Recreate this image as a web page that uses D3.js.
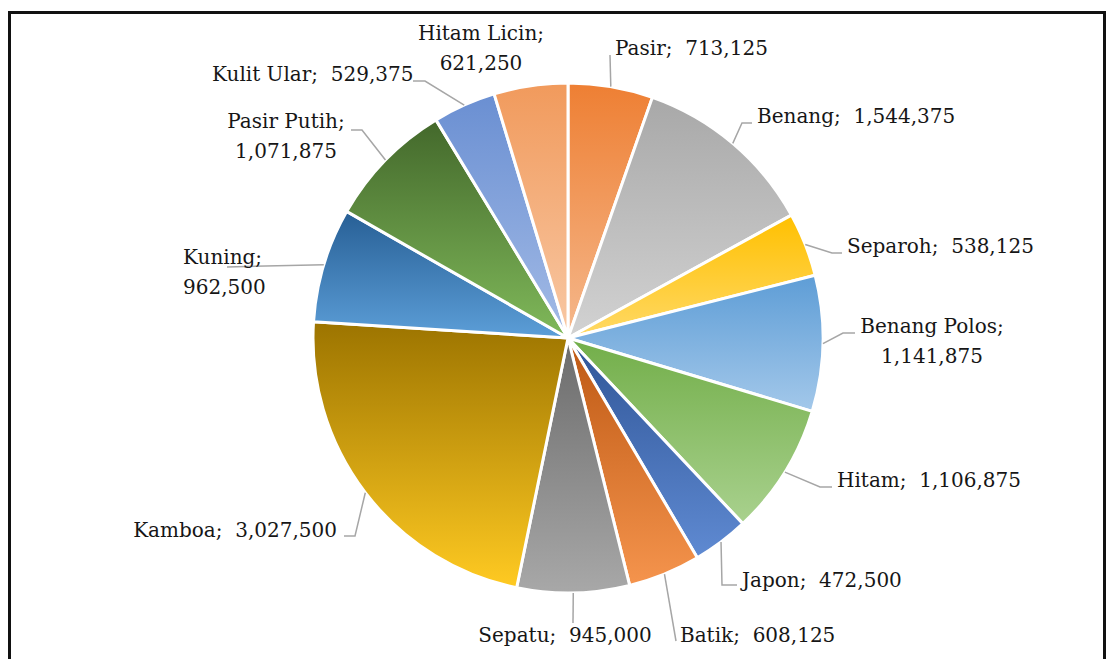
<!DOCTYPE html>
<html>
<head>
<meta charset="utf-8">
<script src="https://cdn.jsdelivr.net/npm/d3@7"></script>
<style>
  body { margin: 0; background: #fff; }
  svg text { font-family: "DejaVu Serif"; font-size: 20px; fill: #161616; white-space: pre; }
</style>
</head>
<body>
<svg width="1113" height="659"></svg>
<script>
let width = 1113, height = 659;

// data
let categories = ["Pasir", "Benang", "Separoh", "Benang Polos", "Hitam", "Japon", "Batik",
                  "Sepatu", "Kamboa", "Kuning", "Pasir Putih", "Kulit Ular", "Hitam Licin"];
let values = [713125, 1544375, 538125, 1141875, 1106875, 472500, 608125,
              945000, 3027500, 962500, 1071875, 529375, 621250];

// gradient colours per slice (top, bottom)
let topColors = ["#ee7f33", "#a8a8a8", "#ffc000", "#5e9dd6", "#72ae49", "#2f5597", "#bd5813",
                 "#6b6b6b", "#9c7400", "#275f95", "#43682b", "#6a8fd2", "#f19a5c"];
let bottomColors = ["#f5b88c", "#d2d2d2", "#ffd966", "#a3c8ea", "#a9d18e", "#5f8ad2", "#f5944d",
                    "#a8a8a8", "#ffca22", "#5c9ed8", "#80b95a", "#a3bbe6", "#f8c8a4"];

// label placement: text anchor point, alignment, and leader line bend points
let labelLayout = [
  { x: 615, y: 55,  anchor: "start",  split: false, pts: [[610, 55]] },
  { x: 757, y: 123, anchor: "start",  split: false, pts: [[742, 123], [752, 123]] },
  { x: 847, y: 253, anchor: "start",  split: false, pts: [[832, 253], [842, 253]] },
  { x: 932, y: 333, anchor: "middle", split: true,  pts: [[843, 333], [855, 333]] },
  { x: 837, y: 487, anchor: "start",  split: false, pts: [[820, 487], [832, 487]] },
  { x: 742, y: 587, anchor: "start",  split: false, pts: [[722, 585], [737, 585]] },
  { x: 680, y: 642, anchor: "start",  split: false, pts: [[676, 641]] },
  { x: 565, y: 642, anchor: "middle", split: false, pts: [[573, 623]] },
  { x: 337, y: 537, anchor: "end",    split: false, pts: [[355, 536], [344, 536]] },
  { x: 183, y: 264, anchor: "start",  split: true,  pts: [[227, 267]] },
  { x: 286, y: 128, anchor: "middle", split: true,  pts: [[362, 130], [351, 130]] },
  { x: 212, y: 81,  anchor: "start",  split: false, pts: [[425, 81], [413, 81]] },
  { x: 481, y: 40,  anchor: "middle", split: true,  pts: [] }
];

let cx = 568, cy = 338, r = 255;
let fmt = d3.format(",");

let svg = d3.select("svg")
    .attr("viewBox", "0 0 " + width + " " + height)

// outer frame
svg.append("rect")
    .attr("x", 9.5).attr("y", 12.5)
    .attr("width", 1095).attr("height", 700)
    .attr("fill", "none")
    .attr("stroke", "#111")
    .attr("stroke-width", 3)

let defs = svg.append("defs");
categories.forEach((c, i) => {
  let g = defs.append("linearGradient")
      .attr("id", "grad" + i)
      .attr("x1", 0).attr("y1", 0).attr("x2", 0).attr("y2", 1);
  g.append("stop").attr("offset", "0%").attr("stop-color", topColors[i]);
  g.append("stop").attr("offset", "100%").attr("stop-color", bottomColors[i]);
})

let pie = d3.pie().sort(null).value(d => d.value);
let arcs = pie(categories.map((c, i) => ({ name: c, value: values[i], i: i })));
let arc = d3.arc().innerRadius(0).outerRadius(r);

let g = svg.append("g").attr("transform", `translate(${cx},${cy})`);

g.selectAll("path")
    .data(arcs)
    .enter()
    .append("path")
    .attr("d", arc)
    .attr("fill", d => `url(#grad${d.data.i})`)
    .attr("stroke", "#fff")
    .attr("stroke-width", 3)
    .attr("stroke-linejoin", "round")

// leader lines
arcs.forEach(d => {
  let lay = labelLayout[d.data.i];
  if (lay.pts.length == 0) return;
  let mid = (d.startAngle + d.endAngle) / 2;
  let start = [cx + r * Math.sin(mid), cy - r * Math.cos(mid)];
  svg.append("path")
      .attr("d", d3.line()([start].concat(lay.pts)))
      .attr("fill", "none")
      .attr("stroke", "#a6a6a6")
      .attr("stroke-width", 1.5)
})

// labels
arcs.forEach(d => {
  let lay = labelLayout[d.data.i];
  let t = svg.append("text")
      .attr("x", lay.x).attr("y", lay.y)
      .attr("text-anchor", lay.anchor);
  if (lay.split) {
    t.append("tspan").attr("x", lay.x).text(d.data.name + ";");
    t.append("tspan").attr("x", lay.x).attr("dy", 30).text(fmt(d.data.value));
  } else {
    t.text(d.data.name + ";  " + fmt(d.data.value));
  }
})
</script>
</body>
</html>
